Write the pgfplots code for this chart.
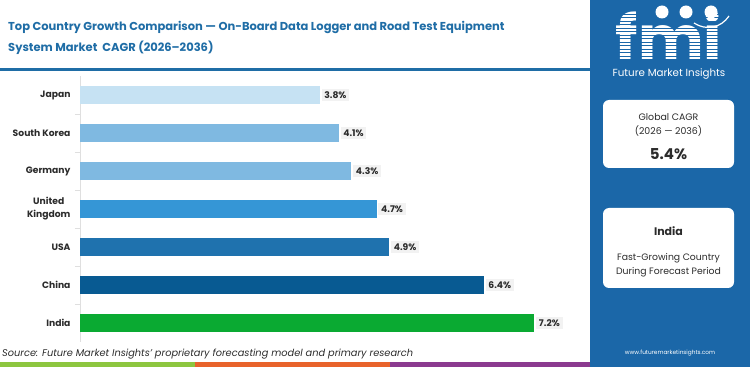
\documentclass[border=0pt]{standalone}
\usepackage{fontspec}
\setmainfont{Poppins}
\usepackage{pgfplots}
\pgfplotsset{compat=1.18}
\definecolor{fmiblue}{HTML}{1B67A8}
\definecolor{titleblue}{HTML}{1F6DA6}
\definecolor{cJP}{HTML}{C6E2F3}
\definecolor{cSK}{HTML}{7FB9E1}
\definecolor{cDE}{HTML}{7FB9E1}
\definecolor{cUK}{HTML}{3596D6}
\definecolor{cUS}{HTML}{1F72AE}
\definecolor{cCN}{HTML}{085A92}
\definecolor{cIN}{HTML}{0AAA32}
\definecolor{txt}{HTML}{2B2B2B}
\definecolor{sgreen}{HTML}{8DC63F}
\definecolor{sorange}{HTML}{E8632B}
\definecolor{spurple}{HTML}{8B3A8F}
\begin{document}
\begin{tikzpicture}[x=1pt,y=1pt]
\path[use as bounding box] (0,0) rectangle (750,367);
\fill[white] (0,0) rectangle (750,367);
\fill[fmiblue] (590,0) rectangle (750,367);
% title
\node[anchor=north west, align=left, font=\bfseries\fontsize{11.5}{21}\selectfont, text=titleblue, inner sep=0] at (8,346)
 {Top Country Growth Comparison — On-Board Data Logger and Road Test Equipment\\System Market\ \ CAGR (2026–2036)};
\draw[titleblue, line width=3pt] (0,297) -- (590,297);
% bottom strip
\fill[sgreen] (0,0) rectangle (195,5);
\fill[sorange] (195,0) rectangle (390,5);
\fill[spurple] (390,0) rectangle (590,5);
% source
\node[anchor=west, font=\itshape\fontsize{9.8}{11}\selectfont, text=txt, inner sep=0] at (2,13) {Source: Future Market Insights’ proprietary forecasting model and primary research};
% logo
\node[font=\bfseries\fontsize{62}{62}\selectfont, text=white, inner sep=0, anchor=base, text depth=0pt] at (669,306.5) {fmi};
\foreach \yy in {307.5,311,...,355} {\draw[fmiblue, line width=0.9pt] (600,\yy) -- (740,\yy);}
\fill[white] (662,355) circle (6.5);
\fill[white] (686,355) circle (6.5);
\fill[white] (711,355) circle (6.5);
\draw[white, line width=1.2pt] (694,344) .. controls (706,336) and (721,339) .. (729,351);
\node[font=\fontsize{10.3}{11}\selectfont, text=white, inner sep=0] at (669,293.5) {Future Market Insights};
% box 1
\fill[white, rounded corners=6pt] (603,199) rectangle (734,267);
\node[font=\fontsize{9.4}{10}\selectfont, text=txt] at (668.5,250) {Global CAGR};
\node[font=\fontsize{9.4}{10}\selectfont, text=txt] at (668.5,236) {(2026 — 2036)};
\node[font=\bfseries\fontsize{15}{16}\selectfont, text=txt] at (668.5,213) {5.4\%};
% box 2
\fill[white, rounded corners=6pt] (603,79) rectangle (734,159);
\node[font=\bfseries\fontsize{11}{12}\selectfont, text=txt] at (668.5,136) {India};
\node[font=\fontsize{9.3}{10}\selectfont, text=txt] at (668.5,109) {Fast-Growing Country};
\node[font=\fontsize{9.3}{10}\selectfont, text=txt] at (668.5,95) {During Forecast Period};
\node[font=\fontsize{5.8}{7}\selectfont, text=white] at (670,14) {www.futuremarketinsights.com};
% chart
\begin{axis}[at={(80pt,25pt)}, anchor=south west, scale only axis,
  width=505pt, height=266pt,
  xbar, xmin=0, xmax=8, ymin=-0.5, ymax=6.5,
  hide x axis, axis y line*=left,
  y axis line style={draw=gray!25, line width=0.6pt},
  ytick={0,...,6},
  yticklabels={India,China,USA,United\\Kingdom,Germany,South Korea,Japan},
  yticklabel style={align=center, font=\bfseries\fontsize{9.2}{13}\selectfont, text=txt, xshift=-6pt},
  major tick length=0pt,
  minor ytick={0.5,1.5,...,5.5},
  minor tick length=5pt, tick align=outside,
  minor tick style={draw=gray!25, line width=0.6pt},
  bar width=18.5pt,
  /pgf/number format/assume math mode=true,
  nodes near coords={\pgfmathprintnumber[fixed,precision=1,fixed zerofill]{\pgfplotspointmeta}\%},
  nodes near coords style={font=\bfseries\fontsize{9.2}{10}\selectfont, text=txt, fill=black!5, inner sep=2.8pt, anchor=west, xshift=1.5pt},
  clip=false]
\addplot[fill=cIN, draw=none, bar shift=0pt] coordinates {(7.2,0)};
\addplot[fill=cCN, draw=none, bar shift=0pt] coordinates {(6.4,1)};
\addplot[fill=cUS, draw=none, bar shift=0pt] coordinates {(4.9,2)};
\addplot[fill=cUK, draw=none, bar shift=0pt] coordinates {(4.7,3)};
\addplot[fill=cDE, draw=none, bar shift=0pt] coordinates {(4.3,4)};
\addplot[fill=cSK, draw=none, bar shift=0pt] coordinates {(4.1,5)};
\addplot[fill=cJP, draw=none, bar shift=0pt] coordinates {(3.8,6)};
\end{axis}
\end{tikzpicture}
\end{document}
